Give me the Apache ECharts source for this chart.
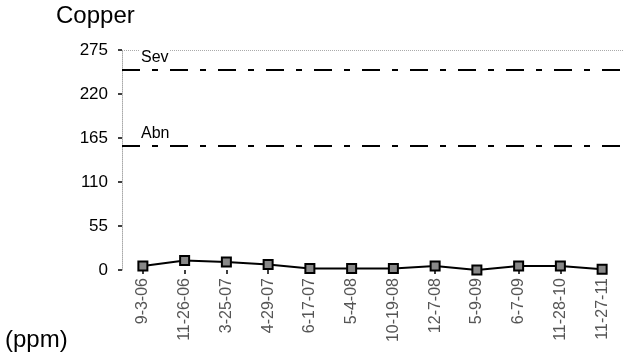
<!DOCTYPE html>
<html><head><meta charset="utf-8">
<script src="https://cdn.jsdelivr.net/npm/echarts@6/dist/echarts.min.js"></script>
<style>html,body{margin:0;padding:0;background:#fff}#c{width:623px;height:358px}</style>
</head><body><div id="c"></div>
<script>
const categories = ['9-3-06','11-26-06','3-25-07','4-29-07','6-17-07','5-4-08','10-19-08','12-7-08','5-9-09','6-7-09','11-28-10','11-27-11'];
const copper = [5, 12, 10, 7, 2, 2, 2, 5, 0, 5, 5, 1];
const yTicks = [0, 55, 110, 165, 220, 275];
const limitNames = ['Sev', 'Abn'];
const limitValues = [250, 155];
const chart = echarts.init(document.getElementById('c'));
chart.setOption({
  animation: false,
  graphic: [
    {type:'text', left:56, top:4, style:{text:'Copper', font:'24px "Liberation Sans", Arial', fill:'#000'}},
    {type:'text', left:5, top:328, style:{text:'(ppm)', font:'24px "Liberation Sans", Arial', fill:'#000'}}
  ],
  grid: {left:122, right:0, top:50, bottom:88},
  xAxis: {
    type:'category', data: categories, boundaryGap:true,
    axisLine:{show:false},
    axisTick:{show:true, alignWithLabel:true, length:4, lineStyle:{color:'#000', width:1.5}},
    axisLabel:{rotate:90, margin:8, fontSize:16, fontFamily:'"Liberation Sans", Arial', color:'#555'}
  },
  yAxis: {
    type:'value', min:0, max:275, interval:55,
    axisLine:{show:true, lineStyle:{color:'#aaa', type:'dotted', width:1}},
    axisTick:{show:true, inside:false, length:4, lineStyle:{color:'#000', width:1.5}},
    axisLabel:{fontSize:17, fontFamily:'"Liberation Sans", Arial', color:'#000', margin:14,
      formatter: v => yTicks.includes(v) ? String(v) : ''},
    splitLine:{show:false}
  },
  series: [{
    type:'line', data: copper,
    symbol:'rect', symbolSize:9,
    itemStyle:{color:'#888', borderColor:'#000', borderWidth:2},
    lineStyle:{color:'#000', width:2},
    markLine: {
      silent:true, symbol:['none','none'],
      data: [
        {yAxis:275, lineStyle:{color:'#aaa', type:'dotted', width:1}, label:{show:false}},
        ...limitValues.map((v,i)=>({yAxis:v, name:limitNames[i],
          lineStyle:{color:'#000', type:[18,12,6,12], width:2},
          label:{show:true, position:'insideStartTop', formatter: limitNames[i], distance:[18,4],
            fontSize:16, fontFamily:'"Liberation Sans", Arial', color:'#000', backgroundColor:'#fff', padding:[0,1]}}))
      ]
    }
  }]
});
</script></body></html>
